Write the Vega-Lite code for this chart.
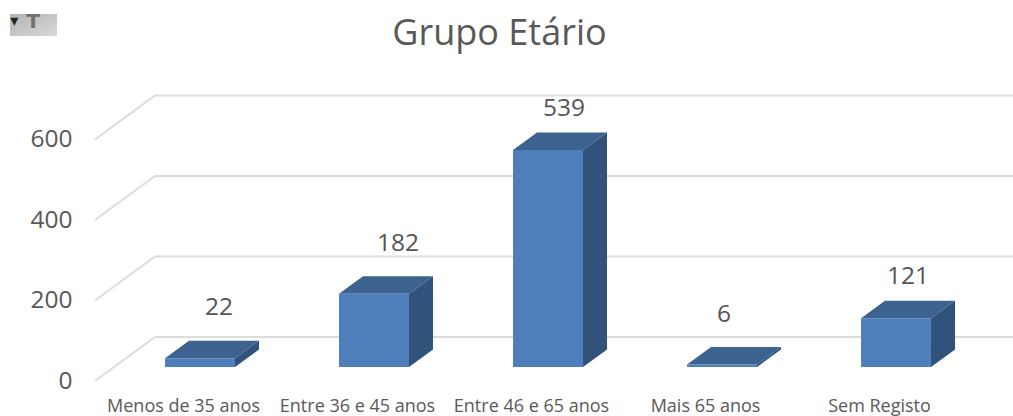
{
"$schema":"https://vega.github.io/schema/vega-lite/v6.json",
"width":935,"height":332,
"autosize":{"type":"none"},
"padding":{"left":78,"top":60,"right":0,"bottom":24},
"background":"white",
"view":{"stroke":null},
"title":{"text":"Grupo Etário","font":"Open Sans","fontSize":36,"fontWeight":"normal","color":"#595959","anchor":"middle","dx":-46,"offset":-41},
"resolve":{"axis":{"x":"independent","y":"independent"}},
"datasets":{
"bars":[
{"category":"Menos de 35 anos","i":0,"value":22},
{"category":"Entre 36 e 45 anos","i":1,"value":182},
{"category":"Entre 46 e 65 anos","i":2,"value":539},
{"category":"Mais 65 anos","i":3,"value":6},
{"category":"Sem Registo","i":4,"value":121}],
"levels":[{"level":0},{"level":200},{"level":400},{"level":600}]
},
"layer":[
{"data":{"name":"levels"},
"transform":[{"calculate":"[0,1,2]","as":"p"},{"flatten":["p"]},{"calculate":"[-0.506,-0.161,4.77][datum.p]","as":"wx"},{"calculate":"datum.level+[-34.8,74.5,74.5][datum.p]","as":"wy"}],
"mark":{"type":"line","color":"#dcdcdc","strokeWidth":2},
"encoding":{
"x":{"field":"wx","type":"quantitative","scale":{"domain":[-0.6034,4.77],"nice":false,"zero":false},"axis":{"values":[0,1,2,3,4],"labelExpr":"['Menos de 35 anos','Entre 36 e 45 anos','Entre 46 e 65 anos','Mais 65 anos','Sem Registo'][datum.value]","title":null,"grid":false,"domain":false,"ticks":false,"labelFont":"Open Sans","labelFontSize":18,"labelColor":"#595959","labelPadding":5,"labelOverlap":false,"labelBound":false,"labelFlush":false}},
"y":{"field":"wy","type":"quantitative","scale":{"domain":[-62.1,762.5],"nice":false,"zero":false},"axis":{"values":[-36,164,364,564],"labelExpr":"format(datum.value+36,'d')","title":null,"grid":false,"domain":false,"ticks":false,"labelFont":"Open Sans","labelFontSize":24.5,"labelColor":"#595959","labelPadding":6,"labelOverlap":false,"labelBound":false}},
"detail":{"field":"level"}}},
{"data":{"name":"bars"},
"transform":[{"calculate":"[0,1]","as":"p"},{"flatten":["p"]},{"calculate":"datum.i+0.2989+datum.p*0.138","as":"sx"},{"calculate":"datum.value+datum.p*43.5","as":"st"},{"calculate":"datum.p*43.5","as":"sb"}],
"mark":{"type":"area","orient":"vertical","color":"#30527b"},
"encoding":{
"x":{"field":"sx","type":"quantitative","scale":{"domain":[-0.6034,4.77],"nice":false,"zero":false},"axis":null},
"y":{"field":"st","type":"quantitative","stack":null,"scale":{"domain":[-62.1,762.5],"nice":false,"zero":false},"axis":null},
"y2":{"field":"sb"},
"detail":{"field":"category"}}},
{"data":{"name":"bars"},
"transform":[{"calculate":"[0,1]","as":"p"},{"flatten":["p"]},{"calculate":"datum.i-0.1034+datum.p*0.138","as":"tl"},{"calculate":"datum.i+0.2989+datum.p*0.138","as":"tr"},{"calculate":"datum.value+datum.p*43.5","as":"ty"}],
"mark":{"type":"area","orient":"horizontal","color":"#3c628f"},
"encoding":{
"y":{"field":"ty","type":"quantitative","scale":{"domain":[-62.1,762.5],"nice":false,"zero":false},"axis":null},
"x":{"field":"tl","type":"quantitative","stack":null,"scale":{"domain":[-0.6034,4.77],"nice":false,"zero":false},"axis":null},
"x2":{"field":"tr"},
"detail":{"field":"category"}}},
{"data":{"name":"bars"},
"transform":[{"calculate":"datum.i-0.1034","as":"fl"},{"calculate":"datum.i+0.2989","as":"fr"},{"calculate":"0","as":"base"}],
"mark":{"type":"rect","color":"#4e7fbc"},
"encoding":{
"x":{"field":"fl","type":"quantitative","scale":{"domain":[-0.6034,4.77],"nice":false,"zero":false},"axis":null},
"x2":{"field":"fr"},
"y":{"field":"value","type":"quantitative","scale":{"domain":[-62.1,762.5],"nice":false,"zero":false},"axis":null},
"y2":{"field":"base"}}},
{"data":{"name":"bars"},
"transform":[{"calculate":"datum.i+[0.207,0.236,0.19,0.109,0.167][datum.i]","as":"lx"},{"calculate":"datum.value+[124,123,101,123,102][datum.i]","as":"ly"}],
"mark":{"type":"text","font":"Open Sans","fontSize":24.5,"color":"#555555","align":"center","baseline":"middle"},
"encoding":{
"x":{"field":"lx","type":"quantitative","scale":{"domain":[-0.6034,4.77],"nice":false,"zero":false},"axis":null},
"y":{"field":"ly","type":"quantitative","scale":{"domain":[-62.1,762.5],"nice":false,"zero":false},"axis":null},
"text":{"field":"value","type":"quantitative"}}},
{"data":{"values":[{"a":-0.994,"b":-0.724,"t":876.8,"u":822.2}]},
"mark":{"type":"rect","color":{"gradient":"linear","x1":0,"y1":0,"x2":1,"y2":1,"stops":[{"offset":0,"color":"#b4b4b4"},{"offset":1,"color":"#d8d8d8"}]}},
"encoding":{
"x":{"field":"a","type":"quantitative","scale":{"domain":[-0.6034,4.77],"nice":false,"zero":false},"axis":null},
"x2":{"field":"b"},
"y":{"field":"t","type":"quantitative","scale":{"domain":[-62.1,762.5],"nice":false,"zero":false},"axis":null},
"y2":{"field":"u"}}},
{"data":{"values":[{"a":-0.97,"t":860,"s":"▾"}]},
"mark":{"type":"text","font":"DejaVu Sans","fontSize":16,"color":"#222222","align":"center","baseline":"middle"},
"encoding":{
"x":{"field":"a","type":"quantitative","scale":{"domain":[-0.6034,4.77],"nice":false,"zero":false},"axis":null},
"y":{"field":"t","type":"quantitative","scale":{"domain":[-62.1,762.5],"nice":false,"zero":false},"axis":null},
"text":{"field":"s"}}},
{"data":{"values":[{"a":-0.862,"t":858,"s":"T"}]},
"mark":{"type":"text","font":"DejaVu Sans","fontSize":20,"fontWeight":"bold","color":"#707070","align":"center","baseline":"middle"},
"encoding":{
"x":{"field":"a","type":"quantitative","scale":{"domain":[-0.6034,4.77],"nice":false,"zero":false},"axis":null},
"y":{"field":"t","type":"quantitative","scale":{"domain":[-62.1,762.5],"nice":false,"zero":false},"axis":null},
"text":{"field":"s"}}}
]
}
